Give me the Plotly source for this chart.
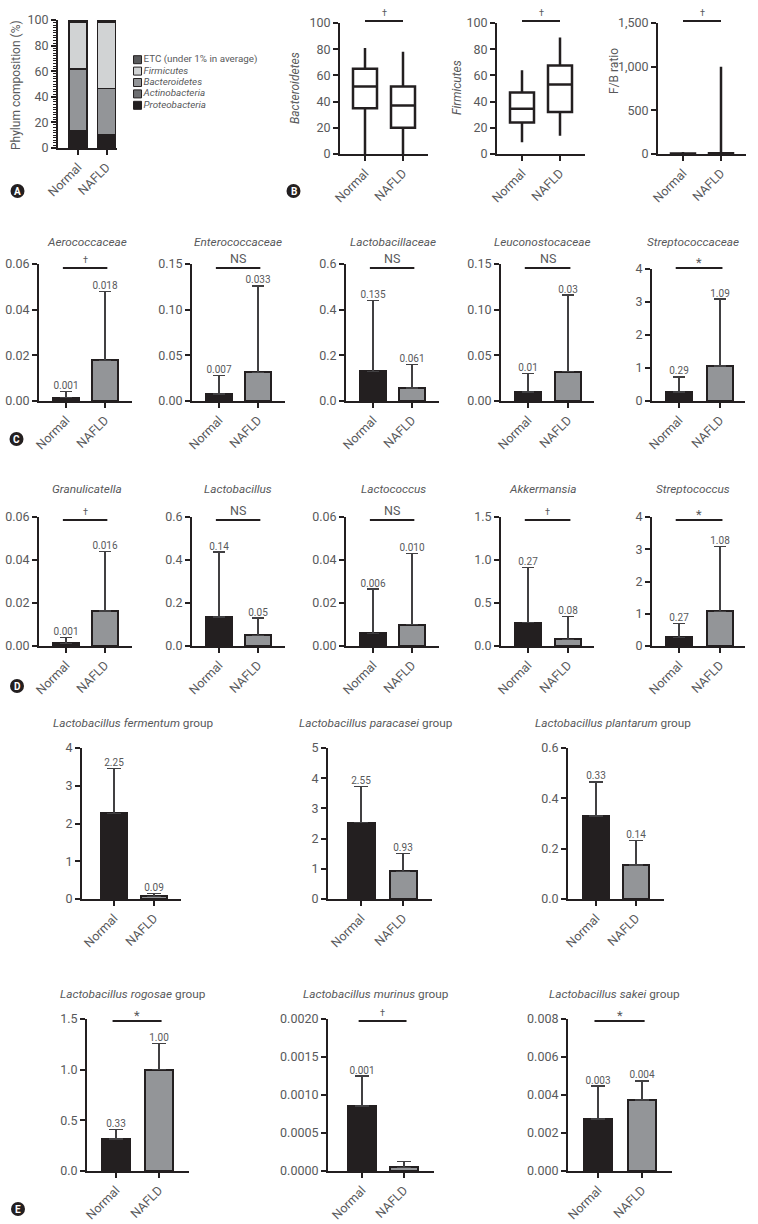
import plotly.graph_objects as go

W, H = 758, 1224
INK = "#231f20"
TXT = "#58595b"
ERRC = "#414042"
GREY = "#939598"
FONT = "Roboto"

groups = ["Normal", "NAFLD"]

# ---------------- Panel A : phylum composition (%)
phyla = ["Proteobacteria", "Actinobacteria", "Bacteroidetes", "Firmicutes", "ETC (under 1% in average)"]
phylum_normal = [12.9, 0.5, 48.4, 36.6, 1.6]
phylum_nafld = [10.4, 0.4, 35.7, 52.0, 1.5]
phylum_ticks = ["0", "20", "40", "60", "80", "100"]

# ---------------- Panel B : box plots [min, Q1, median, Q3, max]
box_titles = ["<i>Bacteroidetes</i>", "<i>Firmicutes</i>", "F/B ratio"]
bacteroidetes_normal = [0, 35, 51.5, 65, 81]
bacteroidetes_nafld = [0, 20, 37, 51.5, 78]
firmicutes_normal = [9, 24, 34.5, 47, 64]
firmicutes_nafld = [14, 32, 53, 67.5, 89]
fb_ratio_normal = [0, 1, 2, 5, 22]
fb_ratio_nafld = [0, 0.5, 1.5, 8, 1000]
box_ticks = [["0", "20", "40", "60", "80", "100"],
             ["0", "20", "40", "60", "80", "100"],
             ["0", "500", "1,000", "1,500"]]
box_sig = ["†", "†", "†"]

# ---------------- Panel C : families
family_names = ["Aerococcaceae", "Enterococcaceae", "Lactobacillaceae", "Leuconostocaceae", "Streptococcaceae"]
family_mean_normal = [0.0015, 0.0076, 0.13, 0.0098, 0.27]
family_err_normal = [0.0028, 0.0204, 0.31, 0.020, 0.46]
family_mean_nafld = [0.0178, 0.0315, 0.057, 0.032, 1.06]
family_err_nafld = [0.0302, 0.0945, 0.103, 0.084, 2.03]
family_label_normal = ["0.001", "0.007", "0.135", "0.01", "0.29"]
family_label_nafld = ["0.018", "0.033", "0.061", "0.03", "1.09"]
family_sig = ["†", "NS", "NS", "NS", "*"]
family_ticks = [["0.00", "0.02", "0.04", "0.06"],
                ["0.00", "0.05", "0.10", "0.15"],
                ["0.0", "0.2", "0.4", "0.6"],
                ["0.00", "0.05", "0.10", "0.15"],
                ["0", "1", "2", "3", "4"]]

# ---------------- Panel D : genera
genus_names = ["Granulicatella", "Lactobacillus", "Lactococcus", "Akkermansia", "Streptococcus"]
genus_mean_normal = [0.0012, 0.135, 0.006, 0.27, 0.27]
genus_err_normal = [0.0028, 0.302, 0.0205, 0.64, 0.43]
genus_mean_nafld = [0.0163, 0.05, 0.010, 0.08, 1.08]
genus_err_nafld = [0.0277, 0.08, 0.033, 0.26, 2.01]
genus_label_normal = ["0.001", "0.14", "0.006", "0.27", "0.27"]
genus_label_nafld = ["0.016", "0.05", "0.010", "0.08", "1.08"]
genus_sig = ["†", "NS", "NS", "†", "*"]
genus_ticks = [["0.00", "0.02", "0.04", "0.06"],
               ["0.0", "0.2", "0.4", "0.6"],
               ["0.00", "0.02", "0.04", "0.06"],
               ["0.0", "0.5", "1.0", "1.5"],
               ["0", "1", "2", "3", "4"]]

# ---------------- Panel E : Lactobacillus groups
species_names = ["fermentum", "paracasei", "plantarum", "rogosae", "murinus", "sakei"]
species_mean_normal = [2.27, 2.53, 0.33, 0.316, 0.000855, 0.00274]
species_err_normal = [1.19, 1.19, 0.135, 0.094, 0.000395, 0.00173]
species_mean_nafld = [0.07, 0.92, 0.135, 1.0, 0.00005, 0.00374]
species_err_nafld = [0.08, 0.59, 0.099, 0.26, 0.00008, 0.0010]
species_label_normal = ["2.25", "2.55", "0.33", "0.33", "0.001", "0.003"]
species_label_nafld = ["0.09", "0.93", "0.14", "1.00", "", "0.004"]
species_sig = ["", "", "", "*", "†", "*"]
species_ticks = [["0", "1", "2", "3", "4"],
                 ["0", "1", "2", "3", "4", "5"],
                 ["0.0", "0.2", "0.4", "0.6"],
                 ["0.0", "0.5", "1.0", "1.5"],
                 ["0.0000", "0.0005", "0.0010", "0.0015", "0.0020"],
                 ["0.000", "0.002", "0.004", "0.006", "0.008"]]

# ---------------- styling / geometry (pixels)
phylum_colors = ["#231f20", "#6d6e71", "#939598", "#d1d3d4", "#58595b"]
# (axis_x, normal_center, spacing, axis_end, bar_width, y_top, y_zero)
geomA = (58, 78, 28.5, 117, 18, 20, 148)
geomB = [(340, 365, 38, 428, 24, 23, 154), (497, 522, 38, 585, 24, 23, 154),
         (658, 683, 38, 746, 24, 23, 154)]
geomC = [(39, 66, 39, 132, 26, 264, 401), (192, 219, 39, 285, 26, 264, 401),
         (346, 373, 39, 439, 26, 264, 401), (501, 528, 40, 594, 26, 264, 401),
         (652, 679, 41, 745, 26, 269, 401)]
geomD = [(39, 66, 39, 132, 26, 517, 646), (192, 219, 39, 285, 26, 517, 646),
         (346, 373, 39, 439, 26, 517, 646), (501, 528, 40, 594, 26, 517, 646),
         (652, 679, 41, 745, 26, 517, 646)]
geomE = [(82, 114, 40, 181, 26, 748, 899), (328, 361, 42, 432, 27, 748, 899),
         (568, 596, 40, 664, 26, 748, 899), (87, 116, 43, 189, 28, 1019, 1171),
         (328, 362, 42, 434, 28, 1019, 1171), (568, 598, 44, 672, 28, 1019, 1171)]
titleC_x = [87, 238, 393, 542, 693]
titleE_x = [133, 376, 613, 133, 376, 614]
titleE_y = [723, 723, 723, 994, 994, 994]
TICK = 12.5

fig = go.Figure()
layout = dict(width=W, height=H, margin=dict(l=0, r=0, t=0, b=0, pad=0, autoexpand=False),
              template="none",
              paper_bgcolor="white", plot_bgcolor="rgba(0,0,0,0)", showlegend=False,
              barmode="stack", boxmode="overlay",
              font=dict(family=FONT, color=TXT, size=12))
annotations = []
shapes = []
count = [0]


def px_x(p):
    return p / W


def px_y(p):
    return 1 - p / H


def make_axes(g, ticklabels):
    ax, c0, sp, end, bw, ytop, y0 = g
    count[0] += 1
    s = "" if count[0] == 1 else str(count[0])
    r0 = (ax - c0) / sp
    r1 = (end - c0) / sp
    tv = [float(t.replace(",", "")) for t in ticklabels]
    layout["xaxis" + s] = dict(domain=[px_x(ax), px_x(end)], range=[r0, r1], anchor="y" + s,
                               automargin=False,
                               tickmode="array", tickvals=[0, 1], ticktext=groups, tickangle=-45,
                               ticks="outside", ticklen=5, tickwidth=2, tickcolor=INK,
                               showline=True, linecolor=INK, linewidth=2, showgrid=False,
                               zeroline=False, tickfont=dict(size=TICK, color=TXT, family=FONT))
    layout["yaxis" + s] = dict(domain=[px_y(y0), px_y(ytop)], range=[0, max(tv)], anchor="x" + s,
                               automargin=False,
                               tickmode="array", tickvals=tv, ticktext=ticklabels,
                               ticks="outside", ticklen=5, tickwidth=2, tickcolor=INK,
                               showline=True, linecolor=INK, linewidth=2, showgrid=False,
                               zeroline=False, tickfont=dict(size=TICK, color=TXT, family=FONT))
    return "x" + s, "y" + s, (r0, r1), bw / sp


def add_sig(xa, ya, rr, g, line_px, symbol, u0=-0.08, u1=1.06):
    if not symbol:
        return
    ytop, y0 = g[5], g[6]
    f0 = (u0 - rr[0]) / (rr[1] - rr[0])
    f1 = (u1 - rr[0]) / (rr[1] - rr[0])
    yf = (y0 - line_px) / (y0 - ytop)
    xr = xa + " domain"
    yr = ya + " domain"
    shapes.append(dict(type="line", xref=xr, yref=yr, x0=f0, x1=f1, y0=yf, y1=yf,
                       line=dict(color=INK, width=2)))
    size = {"†": 9, "NS": 12.5, "*": 13}[symbol]
    shift = {"†": 1, "NS": 0, "*": -4}[symbol]
    annotations.append(dict(xref=xr, yref=yr, x=(f0 + f1) / 2, y=yf, yanchor="bottom",
                            xanchor="center", yshift=shift, text=symbol, showarrow=False,
                            font=dict(size=size, color=TXT, family=FONT)))


def add_title(x_px, y_px, text, size=11.8):
    annotations.append(dict(xref="paper", yref="paper", x=px_x(x_px), y=px_y(y_px),
                            xanchor="center", yanchor="middle", text=text, showarrow=False,
                            font=dict(size=size, color=TXT, family=FONT)))


def bar_panel(g, ticks, mn, en, ma, ea, ln, la, cap):
    xa, ya, rr, bwu = make_axes(g, ticks)
    means = [mn, ma]
    errs = [en, ea]
    fig.add_trace(go.Bar(x=[0, 1], y=means, width=bwu, xaxis=xa, yaxis=ya,
                         marker=dict(color=[INK, GREY], line=dict(color=INK, width=2)),
                         error_y=dict(type="data", symmetric=False, array=errs, arrayminus=[0, 0],
                                      color=ERRC, thickness=1.2, width=cap),
                         hoverinfo="skip"))
    fig.add_trace(go.Scatter(x=[0, 1], y=[m + e for m, e in zip(means, errs)], mode="text",
                             text=[ln, la], textposition="top center", cliponaxis=False,
                             textfont=dict(size=10, color=TXT, family=FONT),
                             xaxis=xa, yaxis=ya, hoverinfo="skip"))
    return xa, ya, rr


# ---------- A
xa, ya, rr, bwu = make_axes(geomA, phylum_ticks)
layout["yaxis"]["minor"] = dict(tickmode="linear", tick0=0, dtick=2, ticks="outside",
                                ticklen=3, tickwidth=1, tickcolor=INK)
for i, name in enumerate(phyla):
    fig.add_trace(go.Bar(x=[0, 1], y=[phylum_normal[i], phylum_nafld[i]], width=bwu,
                         xaxis=xa, yaxis=ya, name=name,
                         marker=dict(color=phylum_colors[i], line=dict(color=INK, width=1.2)),
                         hoverinfo="skip"))
annotations.append(dict(xref="paper", yref="paper", x=px_x(16), y=px_y(85), textangle=-90,
                        xanchor="center", yanchor="middle", text="Phylum composition (%)",
                        showarrow=False, font=dict(size=12, color=TXT, family=FONT)))
# legend drawn on its own small axis
count[0] += 1
ls = str(count[0])
layout["xaxis" + ls] = dict(domain=[px_x(133), px_x(262)], range=[0, 1], visible=False,
                            anchor="y" + ls, automargin=False)
layout["yaxis" + ls] = dict(domain=[px_y(111), px_y(54)], range=[-0.5, 4.5], visible=False,
                            anchor="x" + ls, automargin=False)
legend_text = ["<i>" + p + "</i>" if not p.startswith("ETC") else p for p in phyla]
fig.add_trace(go.Scatter(x=[0.035] * len(phyla), y=list(range(len(phyla))),
                         mode="markers+text", text=legend_text, textposition="middle right",
                         marker=dict(symbol="square", size=8, color=phylum_colors,
                                     line=dict(color=INK, width=1)),
                         textfont=dict(size=9.8, color=TXT, family=FONT), cliponaxis=False,
                         xaxis="x" + ls, yaxis="y" + ls, hoverinfo="skip"))

# ---------- B
box_normal = [bacteroidetes_normal, firmicutes_normal, fb_ratio_normal]
box_nafld = [bacteroidetes_nafld, firmicutes_nafld, fb_ratio_nafld]
box_title_x = [295, 457, 614]
box_title_y = [88, 88, 71]
for i in range(3):
    xa, ya, rr, bwu = make_axes(geomB[i], box_ticks[i])
    n, a = box_normal[i], box_nafld[i]
    fig.add_trace(go.Box(x=[0, 1], lowerfence=[n[0], a[0]], q1=[n[1], a[1]],
                         median=[n[2], a[2]], q3=[n[3], a[3]], upperfence=[n[4], a[4]],
                         width=bwu, whiskerwidth=0, boxpoints=False, fillcolor="white",
                         line=dict(color=INK, width=2.5), xaxis=xa, yaxis=ya, hoverinfo="skip"))
    add_sig(xa, ya, rr, geomB[i], 21, box_sig[i], 0.0, 1.0)
    annotations.append(dict(xref="paper", yref="paper", x=px_x(box_title_x[i]),
                            y=px_y(box_title_y[i]), textangle=-90, xanchor="center",
                            yanchor="middle", text=box_titles[i], showarrow=False,
                            font=dict(size=12, color=TXT, family=FONT)))

# ---------- C
for i in range(5):
    xa, ya, rr = bar_panel(geomC[i], family_ticks[i], family_mean_normal[i], family_err_normal[i],
                           family_mean_nafld[i], family_err_nafld[i],
                           family_label_normal[i], family_label_nafld[i], 6)
    add_sig(xa, ya, rr, geomC[i], 268, family_sig[i])
    add_title(titleC_x[i], 242, "<i>" + family_names[i] + "</i>")

# ---------- D
for i in range(5):
    xa, ya, rr = bar_panel(geomD[i], genus_ticks[i], genus_mean_normal[i], genus_err_normal[i],
                           genus_mean_nafld[i], genus_err_nafld[i],
                           genus_label_normal[i], genus_label_nafld[i], 6)
    add_sig(xa, ya, rr, geomD[i], 520, genus_sig[i])
    add_title(titleC_x[i], 489, "<i>" + genus_names[i] + "</i>")

# ---------- E
for i in range(6):
    xa, ya, rr = bar_panel(geomE[i], species_ticks[i], species_mean_normal[i], species_err_normal[i],
                           species_mean_nafld[i], species_err_nafld[i],
                           species_label_normal[i], species_label_nafld[i], 7)
    add_sig(xa, ya, rr, geomE[i], 1021, species_sig[i])
    add_title(titleE_x[i], titleE_y[i], "<i>Lactobacillus " + species_names[i] + "</i> group")

# ---------- panel letters
letters = ["A", "B", "C", "D", "E"]
letter_pos = [(17.5, 191), (293.5, 191), (16.5, 439), (17, 686), (18, 1209)]
for L, (cx, cy) in zip(letters, letter_pos):
    r = 7
    shapes.append(dict(type="circle", xref="paper", yref="paper",
                       x0=px_x(cx - r), x1=px_x(cx + r), y0=px_y(cy + r), y1=px_y(cy - r),
                       fillcolor=INK, line=dict(color=INK, width=0)))
    annotations.append(dict(xref="paper", yref="paper", x=px_x(cx), y=px_y(cy), text="<b>" + L + "</b>",
                            showarrow=False, xanchor="center", yanchor="middle",
                            font=dict(size=10, color="white", family=FONT)))

layout["annotations"] = annotations
layout["shapes"] = shapes
fig.update_layout(**layout)
fig.write_html("out.html", config={"displayModeBar": False, "staticPlot": True},
               post_script="document.body.style.margin='0';document.body.style.overflow='hidden';")
